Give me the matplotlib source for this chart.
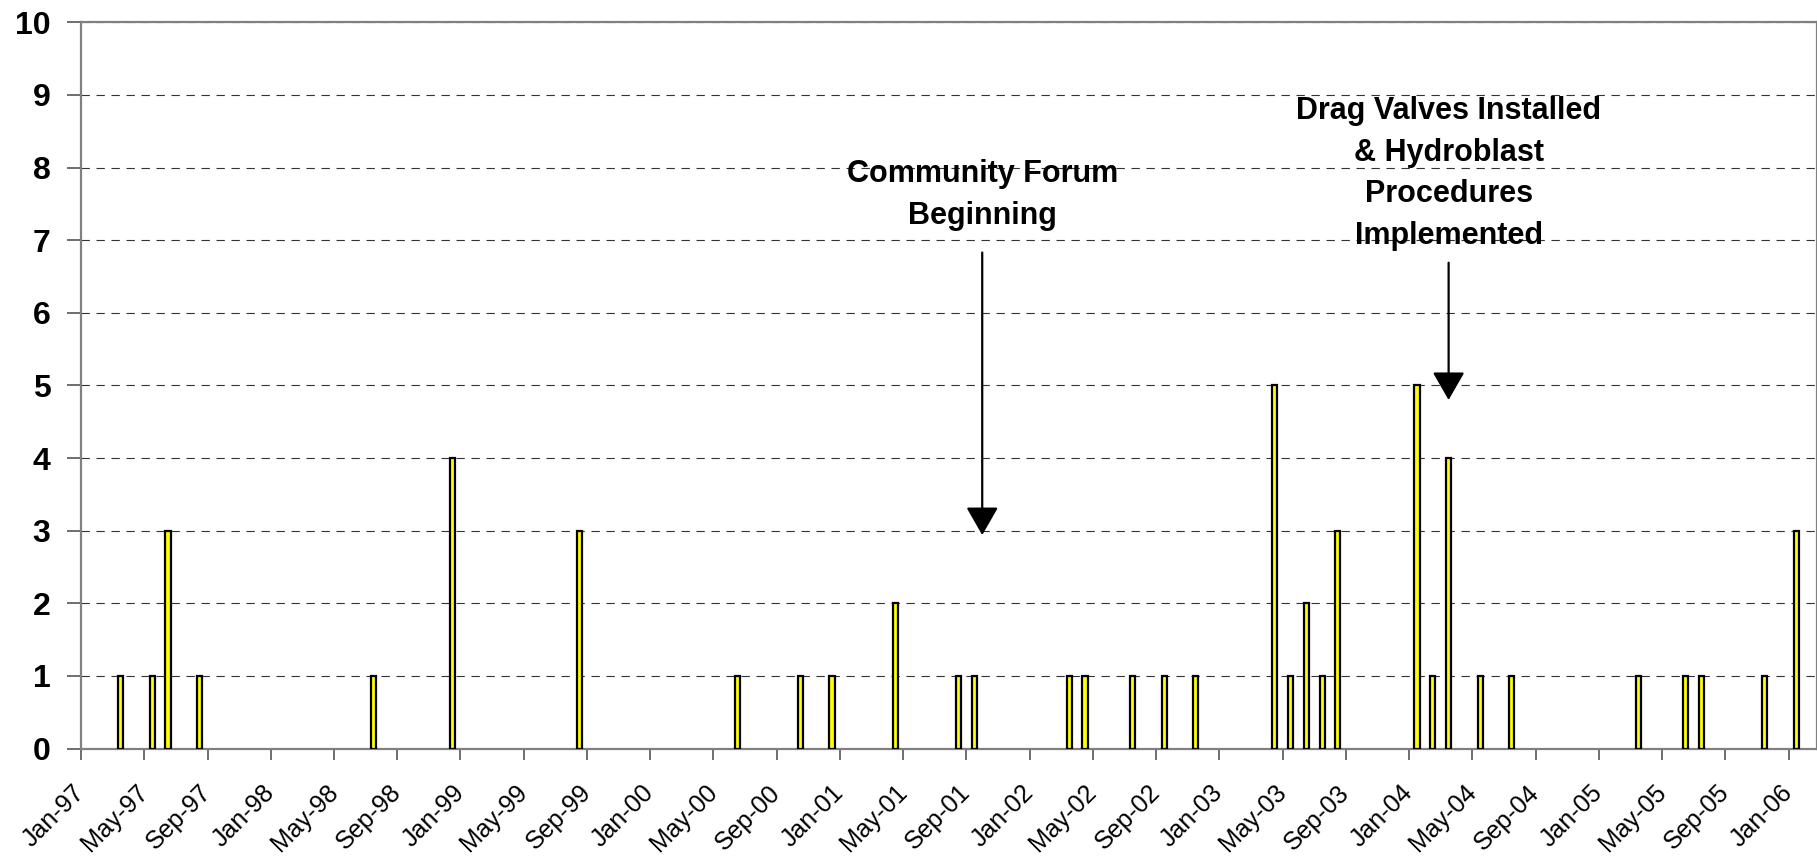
import pandas as pd
import matplotlib
matplotlib.use('Agg')
import matplotlib.pyplot as plt
import numpy as np

plt.rcParams['font.family'] = ['Liberation Sans', 'DejaVu Sans']

# months with events and number of events
event_months = ['1997-03', '1997-05', '1997-06', '1997-08', '1998-07', '1998-12',
                '1999-08', '2000-06', '2000-10', '2000-12', '2001-04', '2001-08',
                '2001-09', '2002-03', '2002-04', '2002-07', '2002-09', '2002-11',
                '2003-04', '2003-05', '2003-06', '2003-07', '2003-08', '2004-01',
                '2004-02', '2004-03', '2004-05', '2004-07', '2005-03', '2005-06',
                '2005-07', '2005-11', '2006-01']
event_counts = [1, 1, 3, 1, 1, 4,
                3, 1, 1, 1, 2, 1,
                1, 1, 1, 1, 1, 1,
                5, 1, 2, 1, 3, 5,
                1, 4, 1, 1, 1, 1,
                1, 1, 3]

start = pd.Period('1997-01', freq='M')
tick_months = pd.period_range('1997-01', '2006-01', freq='M')[::4]
tick_labels = [p.strftime('%b-%y') for p in tick_months]

# text, x (months since Jan-97), text y, arrow start y, arrow tip y
notes = [('Community Forum\nBeginning', 57.0, 7.62, 6.83, 2.94),
         ('Drag Valves Installed\n& Hydroblast\nProcedures\nImplemented', 86.5, 7.92, 6.69, 4.80)]

x = np.array([(pd.Period(m, freq='M') - start).n for m in event_months]) + 0.5

fig = plt.figure(figsize=(18.17, 8.64), dpi=100)
ax = fig.add_axes([0.0446, 0.1336, 0.9554, 0.8406])

ax.bar(x, event_counts, width=0.32, color='#FFFF00', edgecolor='black', linewidth=1.6, zorder=3)

ax.set_xlim(0, 109.8)
ax.set_ylim(0, 10)
ax.set_yticks(range(0, 11))
ax.set_yticklabels([str(i) for i in range(0, 11)], fontsize=23, fontweight='bold')
ax.set_xticks([(p - start).n for p in tick_months])
ax.set_xticklabels(tick_labels, fontsize=18, rotation=45, ha='right', va='center',
                   rotation_mode='anchor')
ax.tick_params(axis='x', direction='out', length=8, width=1.2, color='#555555', pad=21)
ax.tick_params(axis='y', direction='out', length=10, width=1.2, color='#555555', pad=12)

ax.yaxis.grid(True, linestyle=(0, (7.5, 6)), color='#333333', linewidth=0.8)
ax.set_axisbelow(True)
for s in ax.spines.values():
    s.set_color('#808080')
    s.set_linewidth(1.6)

for text, xm, ty, y0, y1 in notes:
    ax.text(xm, ty, text, ha='center', va='center', fontsize=22, fontweight='bold',
            linespacing=1.5, zorder=5)
    ax.annotate('', xy=(xm, y1), xytext=(xm, y0),
                arrowprops=dict(arrowstyle='-|>,head_length=0.87,head_width=0.5',
                                mutation_scale=20, color='black', lw=1.6,
                                shrinkA=0, shrinkB=0), zorder=5)

fig.savefig('out.png', dpi=100)
